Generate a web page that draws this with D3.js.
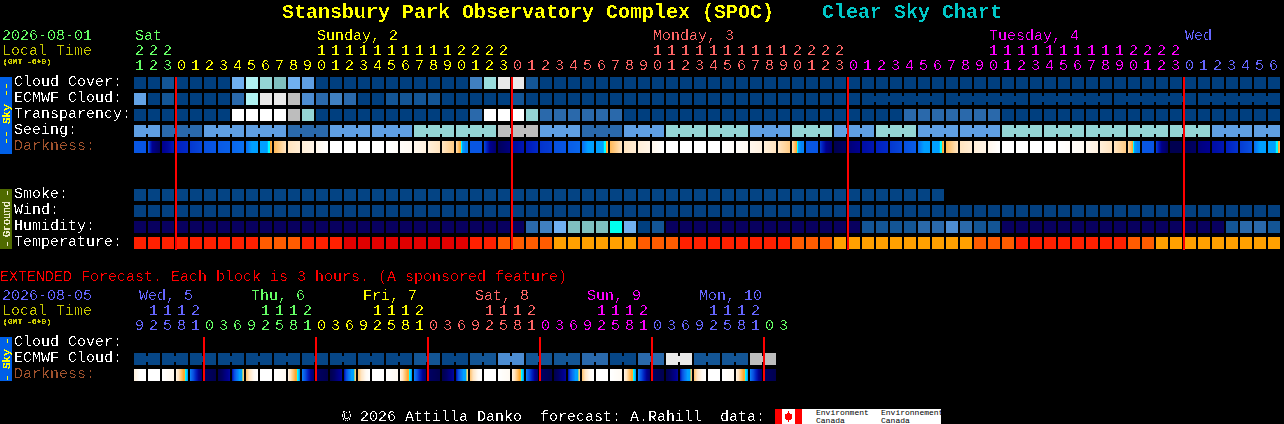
<!DOCTYPE html>
<html><head><meta charset="utf-8">
<script src="https://cdn.jsdelivr.net/npm/d3@7"></script>
<style>
html,body{margin:0;padding:0;background:#000;overflow:hidden}
svg{display:block}
text{font-family:"Liberation Mono",monospace;white-space:pre}
</style></head><body>
<script>
// ---------- tick labels ----------
const mainHours=[21,22,23].concat(...[0,1,2].map(()=>d3.range(24)),d3.range(7));
const mainDays=[{t:"Sat",i:0,d:0},{t:"Sunday, 2",i:13,d:1},{t:"Monday, 3",i:37,d:2},{t:"Tuesday, 4",i:61,d:3},{t:"Wed",i:75,d:4}];
const mainHourDay=mainHours.map((h,i)=>i<3?0:i<27?1:i<51?2:i<75?3:4);
const mainDayColors=["#66ff66","#ffff00","#ff6666","#ff00ff","#6666ff"];
const extHours=[9,12,15,18,21,0,3,6,9,12,15,18,21,0,3,6,9,12,15,18,21,0,3,6,9,12,15,18,21,0,3,6,9,12,15,18,21,0,3,6,9,12,15,18,21,0,3];
const extHourDay=[0,0,0,0,0,1,1,1,1,1,1,1,1,2,2,2,2,2,2,2,2,3,3,3,3,3,3,3,3,4,4,4,4,4,4,4,4,5,5,5,5,5,5,5,5,6,6];
const extDays=[{t:"Wed, 5",i:0,d:0},{t:"Thu, 6",i:8,d:1},{t:"Fri, 7",i:16,d:2},{t:"Sat, 8",i:24,d:3},{t:"Sun, 9",i:32,d:4},{t:"Mon, 10",i:40,d:5}];
const extDayColors=["#6666ff","#66ff66","#ffff00","#ff6666","#ff00ff","#6666ff","#66ff66"];
const skyLabels=["Cloud Cover:","ECMWF Cloud:","Transparency:","Seeing:","Darkness:"];
const groundLabels=["Smoke:","Wind:","Humidity:","Temperature:"];
const midnightsMain=[3,27,51,75];
const midnightsExt=[5,13,21,29,37,45];

// ---------- series values (level on the chart's colour key) ----------
const cloud=[0,0,1,0,0,0,0,5,8,6,7,5,4,0,0,0,0,0,0,0,0,0,0,0,3,6.5,10,10,1,0,0,0,0,0,0,0,0,0,0,0,0,0,0,0,0,0,0,0,0,0,0,0,0,0,0,0,0,0,0,0,0,0,0,0,0,0,0,0,0,0,0,0,0,0,0,0,0,0,0,0,0,0];
const ecmwf=[4.5,0,1,0,0,0,0,2,8,10,10,9,3.5,2,3,2,0,0,1,1,1,1,0,0,0,0,0,1,0,0,0,0,0,0,0,0,0,0,0,0,0,0,0,0,0,0,0,0,0,0,0,0,0,0,0,0,0,0,0,0,0,0,0,0,0,0,0,0,0,0,0,0,0,0,0,0,0,0,0,0,0,0];
const transparency=[0,0,0,0,0,0,0,11,11,11,11,9,6,0,0,0,0,0,0,0,0,0,0,0,2,11,11,11,6,2,2,2,2,2,2,0,0,0,0,0,0,0,0,0,0,0,0,0,0,0,0,0,0,0,0,2,2,2,2,2,2,2,0,0,0,0,0,0,0,0,0,0,0,0,0,0,0,0,0,0,0,0];
const seeingBlocks=[4,2,4,4,2,4,4,6,6,9,4,2,4,6,6,4,6,4,6,4,4,6,6,6,6,6,4,4];
const smoke=d3.range(58).map(()=>0);
const wind=d3.range(82).map(()=>0);
const humidity=[20,20,20,20,20,20,20,20,20,20,20,20,20,20,20,20,20,20,20,20,20,20,20,20,20,20,20,20,2,3,5,7,7,7,21,5,2.5,1,20,20,20,20,20,20,20,20,20,20,20,20,20,20,1,1,1,1,2,2,3.5,2,1,1,20,20,20,20,20,20,20,20,20,20,20,20,20,20,20,20,1,2,2,1];
const temperature=[1,1,1,1,1,1,1,1,1,2,2,2,1,1,1,0,0,0,0,0,0,0,0,0,1,1,2,2,2,2,3,3,3,3,3,3,2,2,2,1,1,1,1,1,1,1,1,2,2,2,3,3,3,3,3,3,3,3,3,3,2,2,2,1,1,1,1,1,1,1,1,2,2,3,3,3,3,3,3,3,3,3];
// darkness: samples evenly spaced across each one-hour block
const darkness=[[3.2,3.2],[3,1,.6,.3],[1,1.3,1.8],[2,2.2],[2.5,2.8],[3,3.2],[3.3,3.5],[3.7,4],[4,5,5],[5,5,5,5,5,5,5,5.2,6,6,7,7.2],[7.3,8],[8,8.3],[8.4,8.6],[8.7,9],
[9,9],[9,9],[9,9],[9,9],[9,8.9],[8.9,8.8],[8.7,8.5],[8.4,8],[8,7.6],[7.8,7.6,7.4,7.2,7,6,5,4.8,4.6,4.4,4.4,4.4],
[3.2,3.2],[2.7,1,.5],[.2,.7],[1.3,1.7],[1.8,2.2],[2.4,2.6],[3,3.2],[3.4,3.7],[4,5,5],[5,5,5,5,5,5,5,5.2,6,6,7,7.2],[7.3,8],[8,8.3],[8.4,8.6],[8.7,9],
[9,9],[9,9],[9,9],[9,9],[9,8.9],[8.9,8.8],[8.7,8.5],[8.4,8],[8,7.6],[7.8,7.6,7.4,7.2,7,6,5,4.8,4.6,4.4,4.4,4.4],
[3.2,3.2],[2.5,1,.5],[0,.3],[.6,1],[1.4,1.7],[2,2.2],[2.5,2.8],[3,3.4],[4,5,5],[5,5,5,5,5,5,5,5.2,6,6,7,7.2],[7.3,8],[8,8.3],[8.4,8.6],[8.7,9],
[9,9],[9,9],[9,9],[9,9],[9,8.9],[8.9,8.8],[8.7,8.5],[8.4,8],[8,7.6],[7.8,7.6,7.4,7.2,7,6,5,4.8,4.6,4.4,4.4,4.4],
[3.2,3.2],[2.5,.8,.3],[0,0],[.1,.3],[.7,1],[1.4,1.7],[2,2.4],[2.6,3],[4,5,5],[5,5,5,5,5,5,5,5.2,6,6,7,7.2]];
const extEcmwfBlocks=[0,0,0,0,0,0,0,0,0,0,1,0,1,3.5,1,1,2,0,2,10,1,1,9];
const extDawn=[8.5,8.2,8,7.8,7.6,7.4,7.2,7,7,6,5.5,5];
const extDusk=[1.8,2.5,3,3.5,4,4.3,4.6,5,5,5,6.5,7.5];
const extDarkness=[[8.5,9,9],[9,9],[9,8.7],extDawn,[4.2,3,2,1,.5],[.3,0],[0,.3,.8,1.2],extDusk,[7.5,8.2,8.8,9],[9,9],[9,8.8],extDawn,[4.2,3,2,1,.5],[.3,0],[0,.3,.8,1.2],extDusk,[7.5,8.2,8.8,9],[9,9],[9,8.8],extDawn,[4.2,3,2,1,.5],[.3,0],[0,.3,.8,1.2],extDusk,[7.5,8.2,8.8,9],[9,9],[9,8.8],extDawn,[4.2,3,2,1,.5],[.3,0],[0,.3,.8,1.2],extDusk,[7.5,8.2,8.8,9],[9,9],[9,8.8],extDawn,[4.2,3,2,1,.5],[.3,0],[0,.3,.8,1.2],extDusk,[7.5,8.2,8.8,9],[9,9],[9,8.8],extDawn,[4.2,3,2,1,.5],[.3,0]];

// ---------- colour keys ----------
const skyKey=d3.scaleOrdinal()
 .domain([0,1,2,3,3.5,4,4.5,5,6,6.5,7,8,9,10,11,20,21])
 .range(["#003f7f","#135595","#2a69ab","#4080c0","#4d8dd2","#5f9fe3","#63a3e6","#70b0f0","#94d5d5","#9adcdc","#7fbfbf","#b0f3f3","#bdbdbd","#e9e9e9","#ffffff","#08005f","#00ffee"]);
const tempKey=d3.scaleOrdinal().domain([0,1,2,3]).range(["#e00000","#ff2000","#ff5c00","#ffa000"]);
const darkKey=d3.scaleLinear().domain([0,1,2,3,4,5,6,7,8,9])
 .range(["#000050","#000090","#0020c0","#0850e0","#0a70f0","#00a0ff","#00ffff","#ffa830","#ffe4c0","#ffffff"]);

// ---------- layout scales ----------
const W=1284,H=424;
const xCell=d3.scaleLinear().domain([0,1]).range([134,148]);
const cellW=12,cellH=12;
const yMain=d3.scaleLinear().domain([0,1]).range([77,93]);
const yGround=d3.scaleLinear().domain([0,1]).range([189,205]);
const yExt=d3.scaleLinear().domain([0,1]).range([337,353]);

const svg=d3.select("body").append("svg").attr("width",W).attr("height",H).style("background","#000");
const defs=svg.append("defs");
function pxFilter(id,table){
  const f=defs.append("filter").attr("id",id).attr("x","-5%").attr("y","-20%").attr("width","110%").attr("height","140%")
    .attr("color-interpolation-filters","sRGB");
  f.append("feComponentTransfer").append("feFuncA").attr("type","discrete").attr("tableValues",table);
}
pxFilter("px","0 0 0 1 1");
pxFilter("pxSmall","0 1 1 1 1");
const marks=svg.append("g").attr("shape-rendering","crispEdges");
const txt=svg.append("g").attr("filter","url(#px)");
const txtSmall=svg.append("g").attr("filter","url(#pxSmall)");

function row(values,y,color){
  marks.append("g").selectAll("rect").data(values).join("rect")
   .attr("x",(d,i)=>xCell(i)).attr("y",y).attr("width",cellW).attr("height",cellH).attr("fill",color);
}
function blocks(vals,starts,y,color,nCells){
  vals.forEach((v,k)=>{
    const a=starts[k],b=k+1<starts.length?starts[k+1]:nCells;
    const g=marks.append("g").attr("fill",color(v));
    d3.range(a,b).forEach(i=>{
      g.append("rect").attr("x",xCell(i)).attr("y",y).attr("width",cellW).attr("height",cellH);
      if(i<b-1) g.append("rect").attr("x",xCell(i)+cellW).attr("y",y+3).attr("width",2).attr("height",6);
    });
  });
}
function gradRow(values,y){
  values.forEach((samples,i)=>{
    const t=d3.scaleLinear().domain(samples.map((_,k)=>k/(samples.length-1)*(cellW-1))).range(samples);
    marks.append("g").selectAll("rect").data(d3.range(cellW)).join("rect")
      .attr("x",p=>xCell(i)+p).attr("y",y).attr("width",1).attr("height",cellH)
      .attr("fill",p=>darkKey(t(p)));
  });
}
row(cloud,yMain(0),d=>skyKey(d));
row(ecmwf.slice(0,52),yMain(1),d=>skyKey(d));
const ecmwf6=[52,58,64,70,76];
blocks(ecmwf6.map(s=>ecmwf[s]),ecmwf6,yMain(1),d=>skyKey(d),82);
row(transparency,yMain(2),d=>skyKey(d));
const seeingStarts=seeingBlocks.map((_,k)=>k===0?0:2+3*(k-1));
blocks(seeingBlocks,seeingStarts,yMain(3),d=>skyKey(d),82);
gradRow(darkness,yMain(4));
row(smoke,yGround(0),()=>"#044484");
row(wind,yGround(1),()=>"#034080");
row(humidity,yGround(2),d=>skyKey(d));
row(temperature,yGround(3),d=>tempKey(d));
const extStarts=extEcmwfBlocks.map((_,k)=>k*2);
blocks(extEcmwfBlocks,extStarts,yExt(1),d=>skyKey(d)==="#003f7f"?"#064686":skyKey(d),46);
gradRow(extDarkness,yExt(2));

const bars=[{y:77,h:77,c:"#0060e8"},{y:189,h:60,c:"#4f6a00"},{y:337,h:44,c:"#0060e8"}];
marks.selectAll(".bar").data(bars).join("rect").attr("x",0).attr("y",d=>d.y).attr("width",12).attr("height",d=>d.h).attr("fill",d=>d.c);
const lines=midnightsMain.map(i=>({x:xCell(i),y1:77,y2:250})).concat(midnightsExt.map(i=>({x:xCell(i),y1:337,y2:381})));
marks.selectAll(".mid").data(lines).join("rect").attr("x",d=>d.x-1).attr("y",d=>d.y1).attr("width",2).attr("height",d=>d.y2-d.y1).attr("fill","#ff0000");

function T(s,x,y,size,fill,opts={}){
  const t=(opts.small?txtSmall:txt).append("text").attr("x",x).attr("y",y).attr("font-size",size).attr("fill",fill).text(s);
  if(opts.bold)t.attr("font-weight","bold");
  if(opts.rot)t.attr("transform",`rotate(-90 ${x} ${y})`);
  return t;
}
T("Stansbury Park Observatory Complex (SPOC)",282,18,20,"#ffff00",{bold:1});
T("Clear Sky Chart",822,18,20,"#00c8c8",{bold:1});
T("2026-08-01",2,40,15,"#66ff66");
T("Local Time",2,55,15,"#c8c800");
T("(GMT -6+0)",3,64,8,"#c8c800",{small:1});
mainDays.forEach(d=>T(d.t,xCell(d.i)+1,40,15,mainDayColors[d.d]));
mainHours.forEach((h,i)=>{
  const c=mainDayColors[mainHourDay[i]];
  if(h>=10)T(String(Math.floor(h/10)),xCell(i)+1,55,15,c);
  T(String(h%10),xCell(i)+1,70,15,c);
});
skyLabels.forEach((s,i)=>T(s,14,yMain(i)+9,15,i===4?"#a0522d":"#ffffff"));
groundLabels.forEach((s,i)=>T(s,14,yGround(i)+9,15,"#ffffff"));
T("EXTENDED Forecast. Each block is 3 hours. (A sponsored feature)",0,281,15,"#ff0000");
T("2026-08-05",2,300,15,"#6666ff");
T("Local Time",2,315,15,"#c8c800");
T("(GMT -6+0)",3,324,8,"#c8c800",{small:1});
extDays.forEach(d=>T(d.t,xCell(d.i)+5,300,15,extDayColors[d.d]));
extHours.forEach((h,i)=>{
  const c=extDayColors[extHourDay[i]];
  if(h>=10)T(String(Math.floor(h/10)),xCell(i)+1,315,15,c);
  T(String(h%10),xCell(i)+1,330,15,c);
});
["Cloud Cover:","ECMWF Cloud:","Darkness:"].forEach((s,i)=>T(s,14,yExt(i)+9,15,i===2?"#a0522d":"#ffffff"));
[[97,"--"],[124,"Sky"],[145,"--"]].forEach(([y,s],k)=>T(s,10,y,k==1?11:12,"#ffff00",{rot:1,small:1}));
[[196,"-"],[237,"Ground"],[247,"-"]].forEach(([y,s])=>T(s,10,y,10,"#e8e8c8",{rot:1,small:1}));
[[344,"-"],[369,"Sky"],[381,"-"]].forEach(([y,s],k)=>T(s,10,y,k==1?11:10,"#ffff00",{rot:1,small:1}));
T("\u00a9 2026 Attilla Danko  forecast: A.Rahill  data:",342,421,15,"#ffffff");

const logo=svg.append("g").attr("shape-rendering","crispEdges");
logo.append("rect").attr("x",775).attr("y",409).attr("width",166).attr("height",15).attr("fill","#fff");
logo.append("rect").attr("x",775).attr("y",409).attr("width",7).attr("height",15).attr("fill","#f00");
logo.append("rect").attr("x",795).attr("y",409).attr("width",7).attr("height",15).attr("fill","#f00");
logo.append("path").attr("d",d3.line()([[788.5,411],[790,414],[792,413.5],[791.5,417],[793,418],[790,420],[789,420],[789,422],[788,422],[788,420],[787,420],[784,418],[785.5,417],[785,413.5],[787,414]])+"Z").attr("fill","#f00");
[[816,"Environment"],[881,"Environnement"]].forEach(([x,s])=>{
  logo.append("text").attr("x",x).attr("y",415).attr("font-size",8).attr("font-family","Liberation Sans").attr("fill","#000").text(s);
  logo.append("text").attr("x",x).attr("y",423).attr("font-size",8).attr("font-family","Liberation Sans").attr("fill","#000").text("Canada");
});
</script>
</body></html>
